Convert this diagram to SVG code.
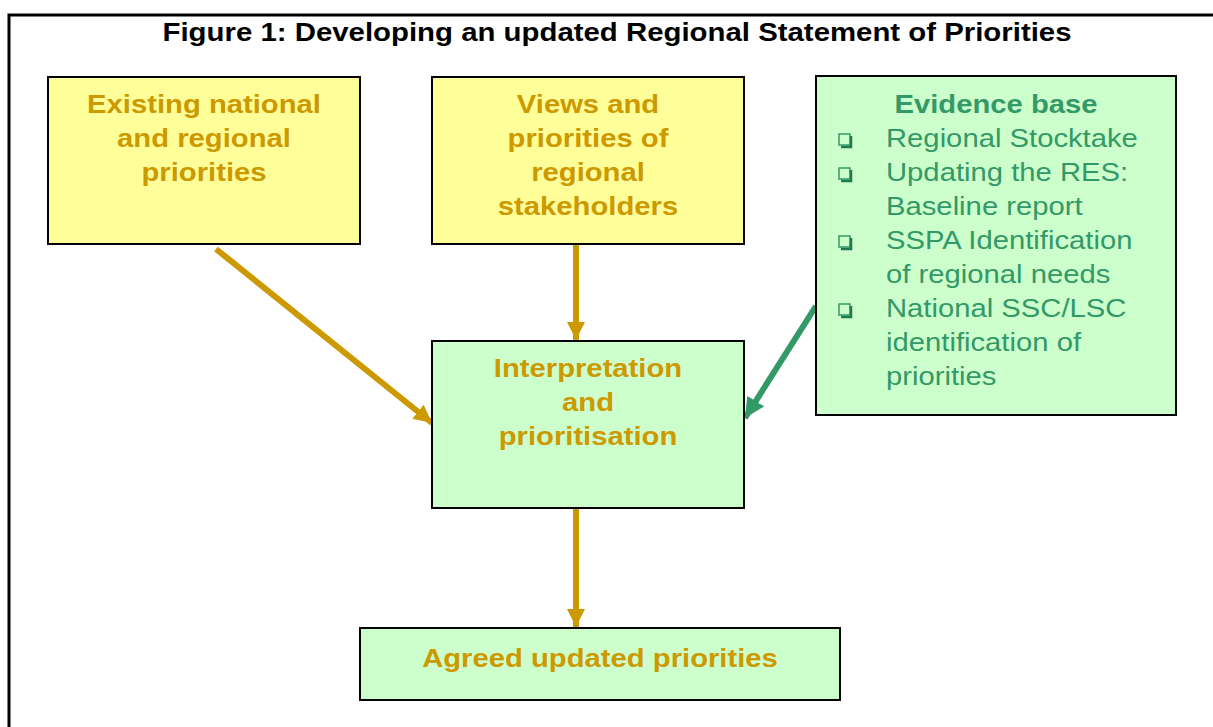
<svg xmlns="http://www.w3.org/2000/svg" width="1213" height="727" viewBox="0 0 1213 727">
<style>
.box{stroke:#000;stroke-width:2}
.y{fill:#FFFF99}
.g{fill:#CCFFCC}
.t{font-family:"Liberation Sans",Arial,sans-serif;font-weight:bold;font-size:26px;fill:#CC9900;text-anchor:middle}
.e{font-family:"Liberation Sans",Arial,sans-serif;font-size:26px;fill:#339966}
.eh{font-family:"Liberation Sans",Arial,sans-serif;font-size:26px;font-weight:bold;fill:#339966;text-anchor:middle}
.title{font-family:"Liberation Sans",Arial,sans-serif;font-weight:bold;font-size:26px;fill:#000;text-anchor:middle}
.ga{stroke:#CC9900;stroke-width:6;fill:none}
.gr{stroke:#339966;stroke-width:6;fill:none}
.bul{fill:none;stroke:#339966;stroke-width:1.5}
.bsh{fill:none;stroke:#1F7A4D;stroke-width:2.5}
</style>
<defs>
<marker id="ah" markerUnits="userSpaceOnUse" markerWidth="20" markerHeight="20" viewBox="0 0 20 20" refX="18" refY="10" orient="auto">
<path d="M0,1 L18,10 L0,19 Z" fill="#CC9900"/>
</marker>
<marker id="ahg" markerUnits="userSpaceOnUse" markerWidth="22" markerHeight="22" viewBox="0 0 22 22" refX="20" refY="11" orient="auto">
<path d="M0,1 L20,11 L0,21 Z" fill="#339966"/>
</marker>
</defs>
<rect width="1213" height="727" fill="#fff"/>
<g id="frame">
<path d="M9,727 V15 H1213" stroke="#000" stroke-width="3" fill="none"/>
<g transform="translate(617,0) scale(1.13,1)"><text class="title" x="0" y="41">Figure 1: Developing an updated Regional Statement of Priorities</text></g>
</g>
<g id="connectors">
<line class="ga" x1="216" y1="249" x2="432" y2="423" marker-end="url(#ah)"/>
<line class="ga" x1="576" y1="245" x2="576" y2="340" marker-end="url(#ah)"/>
<line class="gr" x1="816" y1="306" x2="745" y2="418" marker-end="url(#ahg)"/>
<line class="ga" x1="576" y1="509" x2="576" y2="627" marker-end="url(#ah)"/>
</g>
<g id="existing">
<rect class="box y" x="48" y="77" width="312" height="167"/>
<g transform="translate(204,0) scale(1.125,1)">
<text class="t" x="0" y="113">Existing national</text>
<text class="t" x="0" y="147">and regional</text>
<text class="t" x="0" y="181">priorities</text>
</g>
</g>
<g id="views">
<rect class="box y" x="432" y="77" width="312" height="167"/>
<g transform="translate(588,0) scale(1.125,1)">
<text class="t" x="0" y="113">Views and</text>
<text class="t" x="0" y="147">priorities of</text>
<text class="t" x="0" y="181">regional</text>
<text class="t" x="0" y="215">stakeholders</text>
</g>
</g>
<g id="evidence">
<rect class="box g" x="816" y="76" width="360" height="339"/>
<g transform="translate(996,0) scale(1.125,1)">
<text class="eh" x="0" y="113">Evidence base</text>
</g>
<rect class="bul" x="839" y="134" width="11" height="11"/><path class="bsh" d="M851,136 V147 H841"/>
<rect class="bul" x="839" y="168" width="11" height="11"/><path class="bsh" d="M851,170 V181 H841"/>
<rect class="bul" x="839" y="236" width="11" height="11"/><path class="bsh" d="M851,238 V249 H841"/>
<rect class="bul" x="839" y="304" width="11" height="11"/><path class="bsh" d="M851,306 V317 H841"/>
<g transform="translate(886,0) scale(1.125,1)">
<text class="e" x="0" y="147">Regional Stocktake</text>
<text class="e" x="0" y="181">Updating the RES:</text>
<text class="e" x="0" y="215">Baseline report</text>
<text class="e" x="0" y="249">SSPA Identification</text>
<text class="e" x="0" y="283">of regional needs</text>
<text class="e" x="0" y="317">National SSC/LSC</text>
<text class="e" x="0" y="351">identification of</text>
<text class="e" x="0" y="385">priorities</text>
</g>
</g>
<g id="interpretation">
<rect class="box g" x="432" y="341" width="312" height="167"/>
<g transform="translate(588,0) scale(1.125,1)">
<text class="t" x="0" y="377">Interpretation</text>
<text class="t" x="0" y="411">and</text>
<text class="t" x="0" y="445">prioritisation</text>
</g>
</g>
<g id="agreed">
<rect class="box g" x="360" y="628" width="480" height="72"/>
<g transform="translate(600,0) scale(1.125,1)">
<text class="t" x="0" y="667">Agreed updated priorities</text>
</g>
</g>
</svg>
